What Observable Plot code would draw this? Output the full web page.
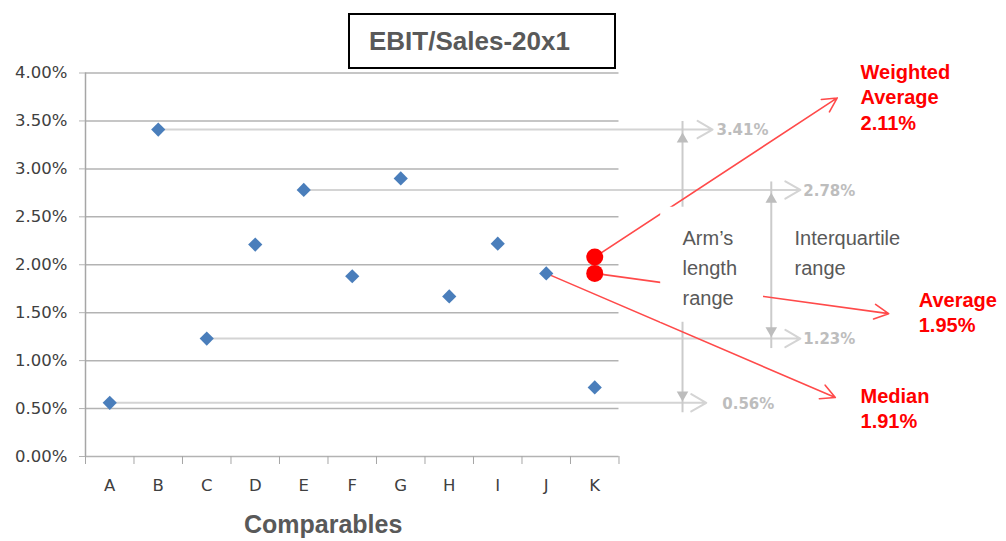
<!DOCTYPE html>
<html>
<head>
<meta charset="utf-8">
<script src="https://cdn.jsdelivr.net/npm/d3@7"></script>
<script src="https://cdn.jsdelivr.net/npm/@observablehq/plot@0.6"></script>
<style>
  html, body { margin: 0; padding: 0; background: #fff; }
  #wrap { position: relative; width: 1006px; height: 541px; }
  #title {
    position: absolute; left: 348px; top: 13px; height: 52px;
    border: 2px solid #000; background: #fff;
    font-family: "Liberation Sans", Arial, sans-serif; font-weight: bold;
    font-size: 26px; color: #595959; line-height: 52px; padding-left: 19px;
    box-sizing: content-box; width: 245px;
  }
</style>
</head>
<body>
<div id="wrap">
  <div id="chart"></div>
  <div id="title">EBIT/Sales-20x1</div>
</div>
<script>
// ---- data ----
const categories = ["A", "B", "C", "D", "E", "F", "G", "H", "I", "J", "K"];
const values = [0.56, 3.41, 1.23, 2.21, 2.78, 1.88, 2.90, 1.67, 2.22, 1.91, 0.72]; // EBIT/Sales, %
const yTicks = [0, 0.5, 1, 1.5, 2, 2.5, 3, 3.5, 4];

// statistics shown in red
const statNames = ["Weighted\nAverage", "Average", "Median"];
const statValues = [2.11, 1.95, 1.91];
// red markers as plotted next to K (weighted average, average)
const markerValues = [2.08, 1.91];

// range boundaries (arm's length range, interquartile range)
const rangeCats = ["B", "E", "C", "A"];
const armRange = [0.56, 3.41];
const iqrRange = [1.23, 2.78];

// ---- annotation layout (x in category-index units, y in %) ----
const rangeArrowEnd = [12.43, 14.24, 14.24, 12.30];
const rangeLabelX = [12.51, 14.30, 14.30, 12.63];
const vArrowX = [11.81, 13.64];
const statArrowEnd = [[15.0, 3.74], [16.06, 1.49], [14.96, 0.615]];
const statLabelPos = [[15.48, 4.125], [16.68, 1.75], [15.48, 0.75]];
const notePos = [[11.81, 2.427], [14.12, 2.427]];
const boxArea = {x1: 11.36, x2: 13.48, y1: 1.40, y2: 2.60};

const idx = c => categories.indexOf(c);
const pts = categories.map((c, i) => ({cat: c, i, value: values[i]}));
const boundaries = d3.range(categories.length + 1).map(i => i - 0.5);
const last = categories.length - 0.5;

const rangeArrows = rangeCats.map((c, k) => ({
  x1: idx(c), value: values[idx(c)], x2: rangeArrowEnd[k], lx: rangeLabelX[k]
}));
const vRanges = [
  {x: vArrowX[0], lo: armRange[0], hi: armRange[1]},
  {x: vArrowX[1], lo: iqrRange[0], hi: iqrRange[1]}
];
const statArrows = [
  {x1: idx("K"), y1: markerValues[0], x2: statArrowEnd[0][0], y2: statArrowEnd[0][1]},
  {x1: idx("K"), y1: markerValues[1], x2: statArrowEnd[1][0], y2: statArrowEnd[1][1]},
  {x1: idx("J"), y1: values[idx("J")], x2: statArrowEnd[2][0], y2: statArrowEnd[2][1]}
];
const statLabels = statNames.map((n, k) => ({
  text: n + "\n" + statValues[k].toFixed(2) + "%", x: statLabelPos[k][0], y: statLabelPos[k][1]
}));
const grayNotes = [
  {text: "Arm\u2019s\nlength\nrange", x: notePos[0][0], y: notePos[0][1]},
  {text: "Interquartile\nrange", x: notePos[1][0], y: notePos[1][1]}
];
const markers = markerValues.map(v => ({x: idx("K"), value: v}));

const chart = Plot.plot({
  width: 1006,
  height: 541,
  marginLeft: 85,
  marginRight: 0,
  marginTop: 72.5,
  marginBottom: 85,
  style: {fontFamily: "DejaVu Sans", fontSize: "16px", color: "#404040", background: "#fff", overflow: "visible"},
  x: {type: "linear", domain: [-0.5, 18.49]},
  y: {type: "linear", domain: [0, 4]},
  marks: [
    // gridlines
    Plot.ruleY(yTicks, {y: d => d, x1: -0.5, x2: last, stroke: "#b3b3b3", strokeWidth: 1.5}),
    // axis lines
    Plot.ruleX([-0.5], {x: d => d, y1: 0, y2: 4, stroke: "#a6a6a6", strokeWidth: 1.5}),
    Plot.axisY({ticks: yTicks, tickFormat: d => d.toFixed(2) + "%", tickSize: 6, tickPadding: 12,
      stroke: "#b3b3b3", fill: "#404040", fontSize: 16.5, label: null}),
    Plot.axisX({ticks: boundaries, tickFormat: () => "", tickSize: 8, stroke: "#a6a6a6", label: null}),
    Plot.axisX({ticks: d3.range(categories.length), tickFormat: i => categories[i], tickSize: 0,
      tickPadding: 23, fill: "#404040", fontSize: 16.5, label: null}),
    // gray horizontal range arrows
    Plot.arrow(rangeArrows, {x1: "x1", y1: "value", x2: "x2", y2: "value", stroke: "#d4d4d4",
      strokeWidth: 2, headLength: 13, headAngle: 60}),
    // gray vertical range arrows
    Plot.ruleX(vRanges, {x: "x", y1: "lo", y2: "hi", stroke: "#cbcbcb", strokeWidth: 2, insetTop: 10, insetBottom: 8}),
    Plot.dot(vRanges, {x: "x", y: "hi", symbol: "triangle", r: 4.3, fill: "#bdbdbd", dy: 9.5}),
    Plot.dot(vRanges, {x: "x", y: "lo", symbol: "triangle", r: 4.3, fill: "#bdbdbd", rotate: 180, dy: -8}),
    // red arrows
    Plot.arrow(statArrows, {x1: "x1", y1: "y1", x2: "x2", y2: "y2", stroke: "#ff4a4a",
      strokeWidth: 1.6, headLength: 15, headAngle: 55}),
    // white text box
    Plot.rect([boxArea], {x1: "x1", x2: "x2", y1: "y1", y2: "y2", fill: "#fff"}),
    // gray notes
    Plot.text(grayNotes, {x: "x", y: "y", text: "text", textAnchor: "start", lineAnchor: "top",
      lineHeight: 1.5, fontFamily: "Liberation Sans", fontSize: 20, fill: "#595959"}),
    // range value labels
    Plot.text(rangeArrows, {x: "lx", y: "value", text: d => d.value.toFixed(2) + "%", textAnchor: "start",
      fontFamily: "DejaVu Sans", fontWeight: "bold", fontSize: 15, fill: "#bdbdbd", dy: 1}),
    // red stat labels
    Plot.text(statLabels, {x: "x", y: "y", text: "text", textAnchor: "start", lineAnchor: "top",
      lineHeight: 1.27, fontFamily: "Liberation Sans", fontWeight: "bold", fontSize: 20, fill: "#ff0000"}),
    // x axis title
    Plot.text(["Comparables"], {x: 4.4, y: -0.71, text: d => d, fontFamily: "Liberation Sans",
      fontWeight: "bold", fontSize: 25, fill: "#595959"}),
    // comparables
    Plot.dot(pts, {x: "i", y: "value", symbol: "diamond2", r: 6.4, fill: "#4a7ebb"}),
    // red markers
    Plot.dot(markers, {x: "x", y: "value", r: 8.5, fill: "#ff0000"})
  ]
});
document.getElementById("chart").appendChild(chart);
</script>
</body>
</html>
